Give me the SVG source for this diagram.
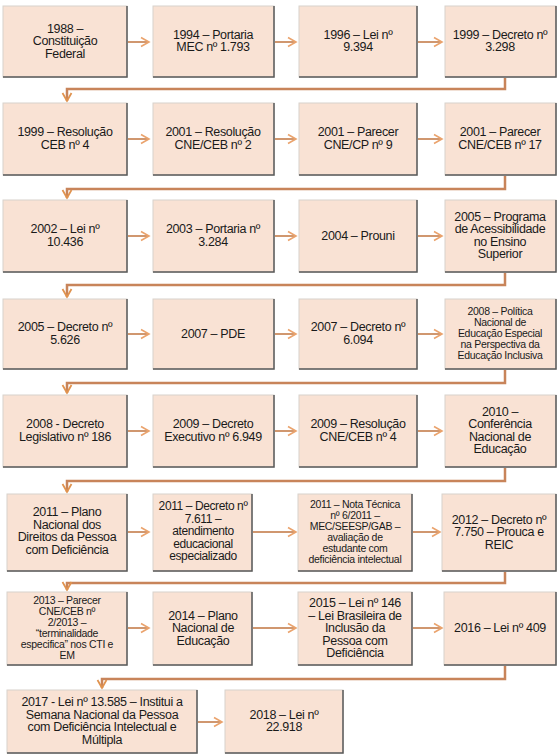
<svg xmlns="http://www.w3.org/2000/svg" width="557" height="755" viewBox="0 0 557 755">
<defs>
<style>
.b rect{fill:#f9e2d4;stroke:#d8d2cc;stroke-width:1}
.b path{fill:none;stroke:#5a5a5a;stroke-width:1.5}
text{font-family:"Liberation Sans",Arial,sans-serif;font-size:12.5px;fill:#1a1a1a;text-anchor:middle;letter-spacing:-0.35px}
.s text{font-size:10.5px;letter-spacing:-0.3px}
.m text{font-size:12px;letter-spacing:-0.4px}
.c{fill:none;stroke:#c0743f;stroke-width:1.5}
.r{fill:none;stroke:#c8845a;stroke-width:2.5}
</style>
<marker id="ah" markerUnits="userSpaceOnUse" markerWidth="12" markerHeight="12" refX="10" refY="6" orient="auto" viewBox="0 0 12 12">
<polyline points="2,1.5 10,6 2,10.5" fill="none" stroke="#eaa36d" stroke-width="1.6"/>
</marker>
<marker id="dh" markerUnits="userSpaceOnUse" markerWidth="12" markerHeight="12" refX="10" refY="6" orient="auto" viewBox="0 0 12 12">
<polyline points="2,1.5 10,6 2,10.5" fill="none" stroke="#e0934f" stroke-width="1.8"/>
</marker>
</defs>
<rect width="557" height="755" fill="#ffffff"/>
<g id="connectors">
<path class="c" d="M128,42H149" marker-end="url(#ah)"/>
<path class="c" d="M275,42H296" marker-end="url(#ah)"/>
<path class="c" d="M418,42H442" marker-end="url(#ah)"/>
<path class="r" d="M505,78V89H67V101" marker-end="url(#dh)"/>
<path class="c" d="M128,139H149" marker-end="url(#ah)"/>
<path class="c" d="M275,139H296" marker-end="url(#ah)"/>
<path class="c" d="M418,139H442" marker-end="url(#ah)"/>
<path class="r" d="M505,176V189H67V198" marker-end="url(#dh)"/>
<path class="c" d="M128,236H149" marker-end="url(#ah)"/>
<path class="c" d="M275,236H296" marker-end="url(#ah)"/>
<path class="c" d="M418,236H442" marker-end="url(#ah)"/>
<path class="r" d="M505,273V285H67V297" marker-end="url(#dh)"/>
<path class="c" d="M128,334H149" marker-end="url(#ah)"/>
<path class="c" d="M275,334H296" marker-end="url(#ah)"/>
<path class="c" d="M418,334H442" marker-end="url(#ah)"/>
<path class="r" d="M505,370V383H67V393" marker-end="url(#dh)"/>
<path class="c" d="M128,431H149" marker-end="url(#ah)"/>
<path class="c" d="M275,431H296" marker-end="url(#ah)"/>
<path class="c" d="M418,431H442" marker-end="url(#ah)"/>
<path class="r" d="M505,468V481H67V492" marker-end="url(#dh)"/>
<path class="c" d="M128,532H149" marker-end="url(#ah)"/>
<path class="c" d="M253,532H296" marker-end="url(#ah)"/>
<path class="c" d="M413,532H440" marker-end="url(#ah)"/>
<path class="r" d="M505,572V583H67V590" marker-end="url(#dh)"/>
<path class="c" d="M128,628H149" marker-end="url(#ah)"/>
<path class="c" d="M253,628H296" marker-end="url(#ah)"/>
<path class="c" d="M413,628H442" marker-end="url(#ah)"/>
<path class="r" d="M505,666V679H102V688" marker-end="url(#dh)"/>
<path class="c" d="M198,722H222" marker-end="url(#ah)"/>
</g>
<g id="n1" class="b"><rect x="3" y="6" width="124" height="71"/><path d="M127,6V77H3"/><text x="65" y="32.5">1988 –</text><text x="65" y="45">Constituição</text><text x="65" y="57.5">Federal</text></g>
<g id="n2" class="b"><rect x="153" y="6" width="121" height="71"/><path d="M274,6V77H153"/><text x="213" y="38.75">1994 – Portaria</text><text x="213" y="51.25">MEC nº 1.793</text></g>
<g id="n3" class="b"><rect x="299" y="6" width="118" height="71"/><path d="M417,6V77H299"/><text x="358" y="38.75">1996 – Lei nº</text><text x="358" y="51.25">9.394</text></g>
<g id="n4" class="b"><rect x="445" y="6" width="111" height="71"/><path d="M556,6V77H445"/><text x="500" y="38.75">1999 – Decreto nº</text><text x="500" y="51.25">3.298</text></g>

<g id="n5" class="b"><rect x="3" y="103" width="124" height="72"/><path d="M127,103V175H3"/><text x="65" y="136.25">1999 – Resolução</text><text x="65" y="148.75">CEB nº 4</text></g>
<g id="n6" class="b"><rect x="153" y="103" width="121" height="72"/><path d="M274,103V175H153"/><text x="213" y="136.25">2001 – Resolução</text><text x="213" y="148.75">CNE/CEB nº 2</text></g>
<g id="n7" class="b"><rect x="299" y="103" width="118" height="72"/><path d="M417,103V175H299"/><text x="358" y="136.25">2001 – Parecer</text><text x="358" y="148.75">CNE/CP nº 9</text></g>
<g id="n8" class="b"><rect x="445" y="103" width="111" height="72"/><path d="M556,103V175H445"/><text x="500" y="136.25">2001 – Parecer</text><text x="500" y="148.75">CNE/CEB nº 17</text></g>

<g id="n9" class="b"><rect x="3" y="200" width="124" height="72"/><path d="M127,200V272H3"/><text x="65" y="233.25">2002 – Lei nº</text><text x="65" y="245.75">10.436</text></g>
<g id="n10" class="b"><rect x="153" y="200" width="121" height="72"/><path d="M274,200V272H153"/><text x="213" y="233.25">2003 – Portaria nº</text><text x="213" y="245.75">3.284</text></g>
<g id="n11" class="b"><rect x="299" y="200" width="118" height="72"/><path d="M417,200V272H299"/><text x="358" y="239.5">2004 – Prouni</text></g>
<g id="n12" class="b"><rect x="445" y="200" width="111" height="72"/><path d="M556,200V272H445"/><text x="500" y="220.75">2005 – Programa</text><text x="500" y="233.25">de Acessibilidade</text><text x="500" y="245.75">no Ensino</text><text x="500" y="258.25">Superior</text></g>

<g id="n13" class="b"><rect x="3" y="299" width="124" height="70"/><path d="M127,299V369H3"/><text x="65" y="331.25">2005 – Decreto nº</text><text x="65" y="343.75">5.626</text></g>
<g id="n14" class="b"><rect x="153" y="299" width="121" height="70"/><path d="M274,299V369H153"/><text x="213" y="337.5">2007 – PDE</text></g>
<g id="n15" class="b"><rect x="299" y="299" width="118" height="70"/><path d="M417,299V369H299"/><text x="358" y="331.25">2007 – Decreto nº</text><text x="358" y="343.75">6.094</text></g>
<g id="n16" class="b s"><rect x="445" y="299" width="111" height="70"/><path d="M556,299V369H445"/><text x="500" y="315">2008 – Política</text><text x="500" y="326">Nacional de</text><text x="500" y="337">Educação Especial</text><text x="500" y="348">na Perspectiva da</text><text x="500" y="359">Educação Inclusiva</text></g>

<g id="n17" class="b"><rect x="3" y="395" width="124" height="72"/><path d="M127,395V467H3"/><text x="65" y="428.25">2008 - Decreto</text><text x="65" y="440.75">Legislativo nº 186</text></g>
<g id="n18" class="b"><rect x="153" y="395" width="121" height="72"/><path d="M274,395V467H153"/><text x="213" y="428.25">2009 – Decreto</text><text x="213" y="440.75">Executivo nº 6.949</text></g>
<g id="n19" class="b"><rect x="299" y="395" width="118" height="72"/><path d="M417,395V467H299"/><text x="358" y="428.25">2009 – Resolução</text><text x="358" y="440.75">CNE/CEB nº 4</text></g>
<g id="n20" class="b"><rect x="445" y="395" width="111" height="72"/><path d="M556,395V467H445"/><text x="500" y="415.75">2010 –</text><text x="500" y="428.25">Conferência</text><text x="500" y="440.75">Nacional de</text><text x="500" y="453.25">Educação</text></g>

<g id="n21" class="b"><rect x="7" y="494" width="120" height="77"/><path d="M127,494V571H7"/><text x="67" y="516.25">2011 – Plano</text><text x="67" y="528.75">Nacional dos</text><text x="67" y="541.25">Direitos da Pessoa</text><text x="67" y="553.75">com Deficiência</text></g>
<g id="n22" class="b m"><rect x="153" y="494" width="99" height="77"/><path d="M252,494V571H153"/><text x="203" y="510">2011 – Decreto nº</text><text x="203" y="522.5">7.611 –</text><text x="203" y="535">atendimento</text><text x="203" y="547.5">educacional</text><text x="203" y="560">especializado</text></g>
<g id="n23" class="b s"><rect x="298" y="494" width="114" height="77"/><path d="M412,494V571H298"/><text x="355" y="508">2011 – Nota Técnica</text><text x="355" y="519">nº 6/2011 –</text><text x="355" y="530">MEC/SEESP/GAB  –</text><text x="355" y="541">avaliação de</text><text x="355" y="552">estudante com</text><text x="355" y="563">deficiência intelectual</text></g>
<g id="n24" class="b"><rect x="442" y="494" width="114" height="77"/><path d="M556,494V571H442"/><text x="499" y="523.5">2012 – Decreto nº</text><text x="499" y="536">7.750 – Prouca e</text><text x="499" y="548.5">REIC</text></g>

<g id="n25" class="b s"><rect x="7" y="592" width="120" height="73"/><path d="M127,592V665H7"/><text x="67" y="604">2013 – Parecer</text><text x="67" y="615">CNE/CEB   nº</text><text x="67" y="626">2/2013 –</text><text x="67" y="637">“terminalidade</text><text x="67" y="648">especifica” nos CTI e</text><text x="67" y="659">EM</text></g>
<g id="n26" class="b"><rect x="153" y="592" width="99" height="73"/><path d="M252,592V665H153"/><text x="203" y="619.5">2014 – Plano</text><text x="203" y="632">Nacional de</text><text x="203" y="644.5">Educação</text></g>
<g id="n27" class="b"><rect x="298" y="592" width="114" height="73"/><path d="M412,592V665H298"/><text x="355" y="607">2015 – Lei nº 146</text><text x="355" y="619.5">– Lei Brasileira de</text><text x="355" y="632">Inclusão da</text><text x="355" y="644.5">Pessoa com</text><text x="355" y="657">Deficiência</text></g>
<g id="n28" class="b"><rect x="444" y="592" width="112" height="73"/><path d="M556,592V665H444"/><text x="500" y="632">2016 – Lei nº 409</text></g>

<g id="n29" class="b"><rect x="7" y="690" width="190" height="63"/><path d="M197,690V753H7"/><text x="102" y="706.25">2017 - Lei nº 13.585 – Institui a</text><text x="102" y="718.75">Semana Nacional da Pessoa</text><text x="102" y="731.25">com Deficiência Intelectual e</text><text x="102" y="743.75">Múltipla</text></g>
<g id="n30" class="b"><rect x="225" y="690" width="118" height="63"/><path d="M343,690V753H225"/><text x="284" y="718.75">2018 – Lei nº</text><text x="284" y="731.25">22.918</text></g>
</svg>
